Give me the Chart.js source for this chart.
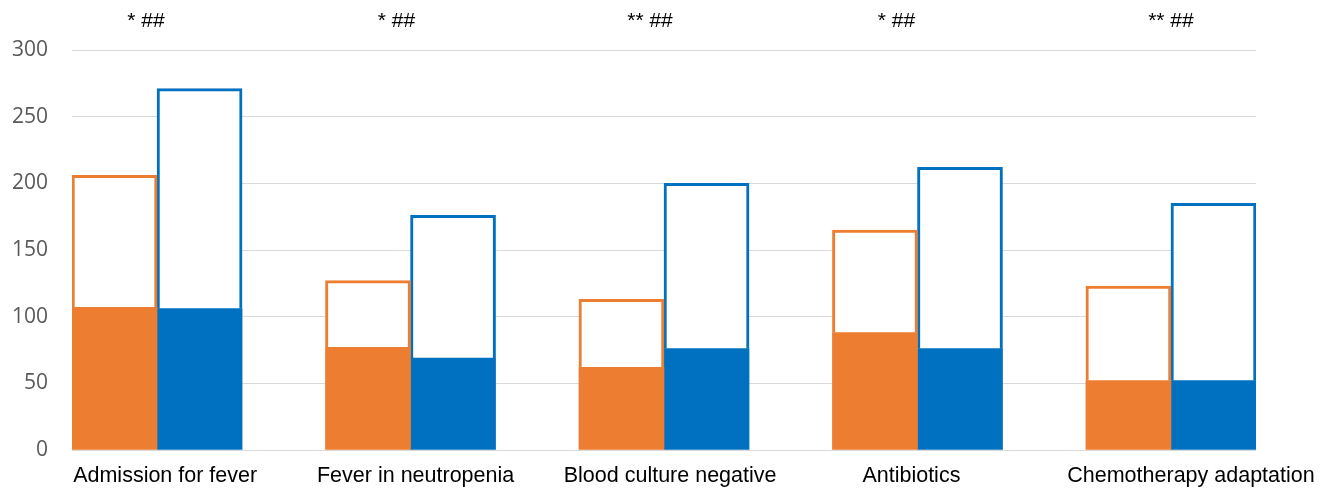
<!DOCTYPE html>
<html>
<head>
<meta charset="utf-8">
<script src="https://cdn.jsdelivr.net/npm/chart.js@4/dist/chart.umd.min.js"></script>
<style>
  html, body { margin: 0; padding: 0; background: #fff; }
  #wrap { width: 1331px; height: 488px; position: relative; }
</style>
</head>
<body>
<div id="wrap"><canvas id="c" width="1331" height="488"></canvas></div>
<script>
const categories = ["Admission for fever", "Fever in neutropenia", "Blood culture negative", "Antibiotics", "Chemotherapy adaptation"];
const orangeFilled = [107, 77, 62, 88, 52];
const orangeOutlined = [99, 50, 51, 77, 71];
const blueFilled = [106, 69, 76, 76, 52];
const blueOutlined = [165, 107, 124, 136, 133];
const significance = ["* ##", "* ##", "** ##", "* ##", "** ##"];
const yTicks = [0, 50, 100, 150, 200, 250, 300];

const ORANGE = "#ED7D31";
const BLUE = "#0070C0";
const groupWidth = 0.671;
// small horizontal nudges (in category units) of the label text boxes
const labelNudge = [0.032, 0.02, 0.024, -0.024, 0.079];

const toXY = arr => arr.map((v, i) => ({ x: i, y: v }));

const barWidth = ctx => {
  const xs = ctx.chart.scales.x;
  return (xs.getPixelForValue(1) - xs.getPixelForValue(0)) * groupWidth / 2;
};

const annotationPlugin = {
  id: "sig",
  afterDraw(chart) {
    const ctx = chart.ctx;
    const xs = chart.scales.x;
    const shifts = [-11, -14, -14, -21, 0];
    ctx.save();
    ctx.font = "21px 'Liberation Sans', Arial, sans-serif";
    ctx.fillStyle = "#000";
    ctx.textAlign = "center";
    ctx.textBaseline = "alphabetic";
    significance.forEach((t, i) => {
      ctx.fillText(t, xs.getPixelForValue(i) + shifts[i], 27);
    });
    ctx.restore();
  }
};

new Chart(document.getElementById("c"), {
  type: "bar",
  data: {
    datasets: [
      { data: toXY(orangeFilled), stack: "o", backgroundColor: ORANGE, borderWidth: 0 },
      { data: toXY(orangeOutlined), stack: "o", backgroundColor: "#ffffff", borderColor: ORANGE, borderWidth: 3, borderSkipped: "bottom" },
      { data: toXY(blueFilled), stack: "b", backgroundColor: BLUE, borderWidth: 0 },
      { data: toXY(blueOutlined), stack: "b", backgroundColor: "#ffffff", borderColor: BLUE, borderWidth: 3, borderSkipped: "bottom" }
    ]
  },
  options: {
    responsive: false,
    animation: false,
    events: [],
    layout: { padding: { top: 50, right: 75, left: 0, bottom: 0 } },
    datasets: { bar: { barThickness: barWidth } },
    plugins: { legend: { display: false }, tooltip: { enabled: false } },
    scales: {
      x: {
        type: "linear",
        stacked: true,
        offset: false,
        min: -groupWidth / 2,
        max: categories.length - 1 + groupWidth / 2,
        grid: { display: false },
        border: { display: false },
        afterBuildTicks(scale) { scale.ticks = categories.map((_, i) => ({ value: i + labelNudge[i] })); },
        afterFit(scale) { scale.height = 38; },
        ticks: {
          autoSkip: false, maxRotation: 0, padding: 5,
          color: "#000",
          font: { family: "'Liberation Sans', Arial, sans-serif", size: 21.5 },
          callback: v => categories[Math.round(v)]
        }
      },
      y: {
        stacked: true,
        min: 0, max: 300,
        afterBuildTicks(scale) { scale.ticks = yTicks.map(v => ({ value: v })); },
        afterFit(scale) { scale.width = 72; },
        grid: { color: "#d9d9d9", lineWidth: 1, drawTicks: false },
        border: { display: false },
        ticks: {
          padding: 24,
          color: "#595959",
          font: { family: "'Open Sans', sans-serif", size: 21 }
        }
      }
    }
  },
  plugins: [annotationPlugin]
});
</script>
</body>
</html>
